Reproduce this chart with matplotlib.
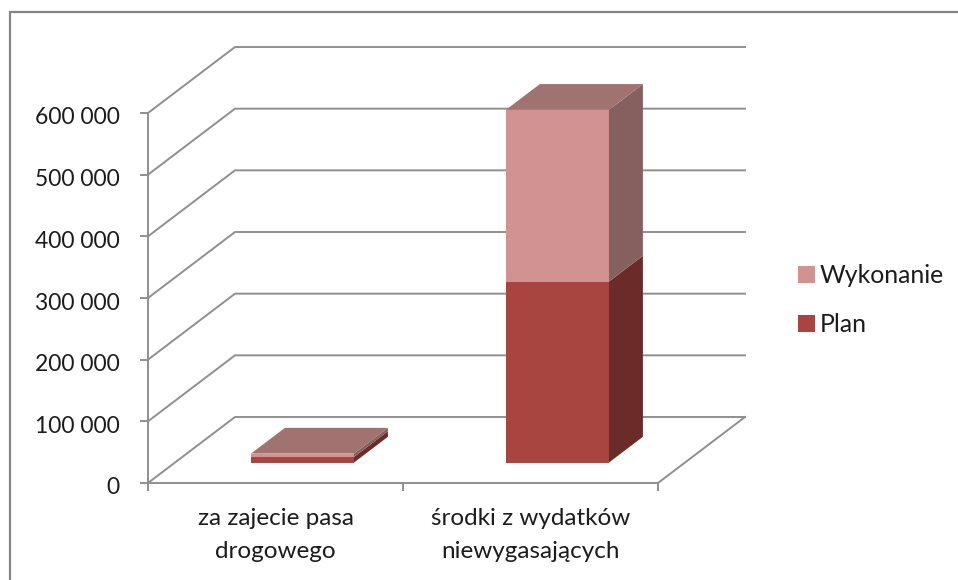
import matplotlib
matplotlib.use("Agg")
import matplotlib.pyplot as plt
from matplotlib.patches import Polygon, Patch
from matplotlib.lines import Line2D
from matplotlib.transforms import ScaledTranslation

categories = ["za zajecie pasa\ndrogowego", "środki z wydatków\nniewygasających"]
plan = [9000, 293500]
wykonanie = [5500, 278500]
y_ticks = [0, 100000, 200000, 300000, 400000, 500000, 600000]
y_tick_labels = ["0", "100 000", "200 000", "300 000", "400 000", "500 000", "600 000"]

W, H = 958, 580
GRAY = "#8f8f8f"
plt.rcParams["font.family"] = ["Lato", "DejaVu Sans"]
fig = plt.figure(figsize=(W / 100, H / 100), dpi=100, facecolor="white")
L, R, B, T = 148, 658, 483, 113
ax = fig.add_axes([L / W, 1 - B / H, (R - L) / W, (B - T) / H])
ax.set_xlim(0, 2)
ax.set_ylim(0, 600000)
ax.patch.set_visible(False)

DX = 87 / 255      # depth shift in category units
DY = 66 / 370 * 600000   # depth shift in value units


def p(x, y, d=0.0):
    return (x + DX * d, y + DY * d)


# walls
for v in y_ticks:
    ax.plot(*zip(p(0, v), p(0, v, 1), p(2, v, 1)), color=GRAY, lw=1.4, clip_on=False, zorder=1,
            solid_joinstyle="miter")
ax.plot(*zip(p(2, 0), p(2, 0, 1)), color=GRAY, lw=1.4, clip_on=False, zorder=1)

# bars
BW = 103 / 255
D0, D1 = 0.31, 0.70
C_PLAN = ("#A94540", "#6B2B28", "#A07270")
C_WYK = ("#D09392", "#86605E", "#A07270")


def box(xc, y0, y1, cols, top=False):
    xl, xr = xc - BW / 2, xc + BW / 2
    kw = dict(clip_on=False, zorder=3, lw=0)
    ax.add_patch(Polygon([p(xl, y0, D0), p(xr, y0, D0), p(xr, y1, D0), p(xl, y1, D0)], fc=cols[0], **kw))
    ax.add_patch(Polygon([p(xr, y0, D0), p(xr, y0, D1), p(xr, y1, D1), p(xr, y1, D0)], fc=cols[1], **kw))
    if top:
        ax.add_patch(Polygon([p(xl, y1, D0), p(xr, y1, D0), p(xr, y1, D1), p(xl, y1, D1)], fc=cols[2], **kw))


for i in range(len(categories)):
    xc = i + 0.5
    box(xc, 0, plan[i], C_PLAN)
    box(xc, plan[i], plan[i] + wykonanie[i], C_WYK, top=True)

# axes
for s in ("top", "right"):
    ax.spines[s].set_visible(False)
for s in ("left", "bottom"):
    ax.spines[s].set_color(GRAY)
    ax.spines[s].set_linewidth(1.4)
ax.set_yticks(y_ticks, y_tick_labels)
ax.set_xticks([0, 1, 2], ["", "", ""])
ax.set_xticks([0.5, 1.5], categories, minor=True)
ax.tick_params(axis="y", length=5.5, width=1.4, color=GRAY, labelsize=16.5, labelcolor="#1c1c1c", pad=15)
ax.tick_params(axis="x", which="major", length=6, width=1.4, color=GRAY)
ax.tick_params(axis="x", which="minor", length=0, labelsize=17.5, labelcolor="#1c1c1c", pad=18)
for t in ax.get_xticklabels(minor=True):
    t.set_linespacing(1.68)
shift = ScaledTranslation(0, -3 / 100, fig.dpi_scale_trans)
for t in ax.get_yticklabels():
    t.set_transform(t.get_transform() + shift)

# legend
ax.legend(
    handles=[Patch(fc=C_WYK[0], label="Wykonanie"), Patch(fc=C_PLAN[0], label="Plan")],
    loc="upper left", bbox_to_anchor=(791 / W, 1 - 257 / H), bbox_transform=fig.transFigure,
    frameon=False, fontsize=17.9, labelcolor="#1c1c1c", handlelength=0.65, handleheight=0.65,
    handletextpad=0.2, labelspacing=1.03, borderpad=0.3, borderaxespad=0,
)

# chart frame: only left and top edges are inside the picture
fig.add_artist(Line2D([9.5 / W, 9.5 / W, 1], [0, 1 - 11.5 / H, 1 - 11.5 / H], transform=fig.transFigure,
                      color="#868686", lw=1.6, solid_joinstyle="miter"))
fig.savefig("out.png", dpi=100)
